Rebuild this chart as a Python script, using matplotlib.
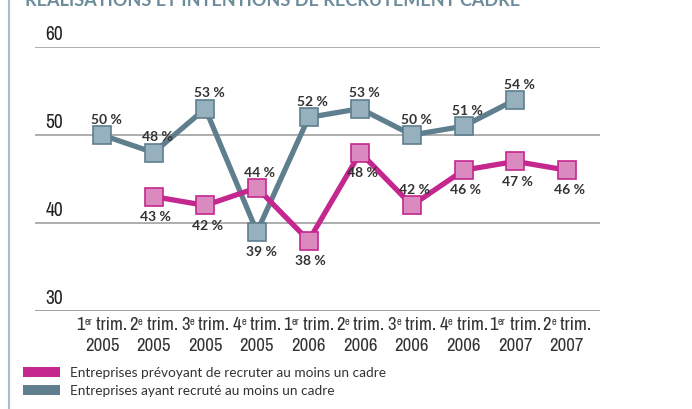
import matplotlib
matplotlib.use("Agg")
import matplotlib.pyplot as plt
from matplotlib.patches import Rectangle
from matplotlib.lines import Line2D
from matplotlib import font_manager

plt.rcParams['font.family'] = ['Lato', 'DejaVu Sans']
names = sorted({f.name for f in font_manager.fontManager.ttflist})
narrow = [n for n in names if 'Narrow' in n or 'Condensed' in n or 'Cond' in n]
cond_family = narrow[0] if narrow else 'Lato'

quarter_num = ["1", "2", "3", "4", "1", "2", "3", "4", "1", "2"]
quarter_sup = ["er", "e", "e", "e", "er", "e", "e", "e", "er", "e"]
quarter_word = " trim."
years = ["2005", "2005", "2005", "2005", "2006", "2006", "2006", "2006", "2007", "2007"]
prevu_idx = [1, 2, 3, 4, 5, 6, 7, 8, 9]
prevu = [43, 42, 44, 38, 48, 42, 46, 47, 46]
prevu_lbl_above = [False, False, True, False, False, True, False, False, False]
realise_idx = [0, 1, 2, 3, 4, 5, 6, 7, 8]
realise = [50, 48, 53, 39, 52, 53, 50, 51, 54]
realise_lbl_above = [True, True, True, False, True, True, True, True, True]
yticks = [30, 40, 50, 60]
legend_labels = ["Entreprises prévoyant de recruter au moins un cadre",
                 "Entreprises ayant recruté au moins un cadre"]
title = "RÉALISATIONS ET INTENTIONS DE RECRUTEMENT CADRE"

pink_line = "#C4278E"
pink_fill = "#DA8ABE"
gray_line = "#5F7F8E"
gray_fill = "#97B0BE"
txt = "#333333"

W, H = 692, 410
fig = plt.figure(figsize=(W/100, H/100), dpi=100)
ax = fig.add_axes([35/W, (H-312)/H, (600-35)/W, (312-48)/H])
ax.set_xlim(-1.297, 9.64)
ax.set_ylim(30, 60)
for s in ax.spines.values():
    s.set_visible(False)
ax.set_yticks([])
ax.set_xticks([])
fam = [cond_family, 'Lato']
for v in yticks:
    ax.axhline(v, color="#A8A8A8" if v != 30 else "#9A9A9A", lw=1.3, zorder=1)
    ax.text(-1.1, v + 0.45, str(v), fontsize=14, color="#222222", ha="left", va="bottom",
            family=fam)

r = fig.canvas.get_renderer()
main_fs, sup_fs = 13.5, 7.5
def width_px(s, fs):
    t = fig.text(0, 0, s, fontsize=fs, family=fam)
    w = t.get_window_extent(renderer=r).width
    t.remove()
    return w
line1_y = H - 330
line2_y = H - 351
for i in range(len(years)):
    xc = ax.transData.transform((i, 30))[0]
    wn = width_px(quarter_num[i], main_fs)
    ws = width_px(quarter_sup[i], sup_fs)
    ww = width_px(quarter_word, main_fs)
    x0 = xc - (wn + ws + ww) / 2
    fig.text(x0/W, line1_y/H, quarter_num[i], fontsize=main_fs, color=txt, va="baseline", family=fam)
    fig.text((x0 + wn)/W, (line1_y + 5)/H, quarter_sup[i], fontsize=sup_fs, color=txt, va="baseline", family=fam)
    fig.text((x0 + wn + ws)/W, line1_y/H, quarter_word, fontsize=main_fs, color=txt, va="baseline", family=fam)
    fig.text(xc/W, line2_y/H, years[i], fontsize=main_fs, color=txt, ha="center", va="baseline", family=fam)

ax.plot(realise_idx, realise, color=gray_line, lw=3.8, marker="s", markersize=12.5,
        markerfacecolor=gray_fill, markeredgecolor=gray_line, markeredgewidth=1.2,
        zorder=3, clip_on=False)
ax.plot(prevu_idx, prevu, color=pink_line, lw=3.8, marker="s", markersize=12.5,
        markerfacecolor=pink_fill, markeredgecolor=pink_line, markeredgewidth=1.2,
        zorder=4, clip_on=False)

for x, v, up in zip(realise_idx, realise, realise_lbl_above):
    y = v + 1.15 if up else v - 1.5
    ax.text(x + 0.08, y, f"{v} %", ha="center", va="bottom" if up else "top",
            fontsize=10, fontweight="bold", color=txt, zorder=5)
for x, v, up in zip(prevu_idx, prevu, prevu_lbl_above):
    y = v + 1.15 if up else v - 1.5
    ax.text(x + 0.04, y, f"{v} %", ha="center", va="bottom" if up else "top",
            fontsize=10, fontweight="bold", color=txt, zorder=5)

fig.text(25/W, 1 - 6/H, title, fontsize=13, fontweight="bold", color="#6D8C9B",
         ha="left", va="baseline")
fig.add_artist(Line2D([8.5/W, 8.5/W], [0, 1], color="#A9BECA", lw=1.5))

fig.add_artist(Rectangle((23/W, (H-378)/H), 37/W, 10/H, color=pink_line, lw=0))
fig.add_artist(Rectangle((23/W, (H-396)/H), 37/W, 10/H, color=gray_line, lw=0))
fig.text(70/W, (H-373)/H, legend_labels[0], fontsize=9.8, color=txt, va="center")
fig.text(70/W, (H-391)/H, legend_labels[1], fontsize=9.8, color=txt, va="center")

fig.savefig("out.png", dpi=100)
